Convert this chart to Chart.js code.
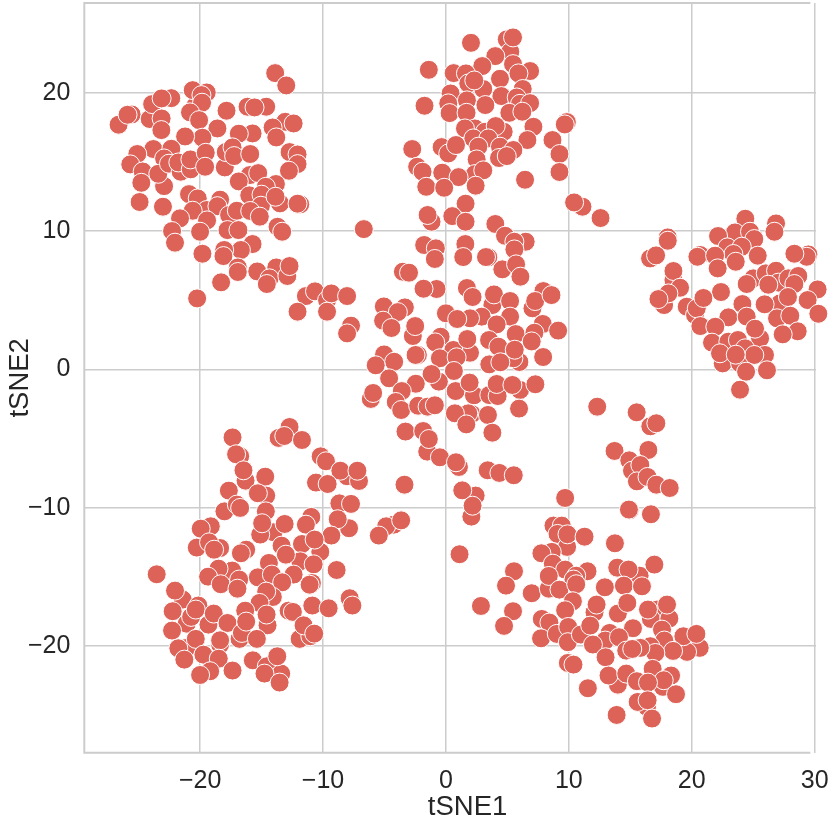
<!DOCTYPE html>
<html><head><meta charset="utf-8">
<style>html,body{margin:0;padding:0;background:#fff}canvas{display:block}</style>
<script src="https://cdn.jsdelivr.net/npm/chart.js@4/dist/chart.umd.min.js"></script>
</head><body><canvas id="c" width="830" height="822"></canvas>
<script>
const xTicks=[-20,-10,0,10,20,30];
const yTicks=[-20,-10,0,10,20];
const xName='tSNE1', yName='tSNE2';
const upperLeft=[[-13.89,21.42],[-12.99,20.53],[-26.63,17.69],[-25.57,18.43],[-25.9,18.41],[-24.1,18.1],[-23.9,19.18],[-22.34,19.61],[-23.13,19.59],[-23.13,18.14],[-23.15,17.3],[-19.46,20.02],[-20.35,19.1],[-20.6,20.19],[-19.89,19.83],[-19.84,19.28],[-20.82,18.58],[-20.08,18.02],[-17.85,18.7],[-16.14,18.99],[-14.62,18.99],[-15.57,18.94],[-13.07,17.9],[-12.39,17.78],[-14.1,17.49],[-13.8,16.77],[-15.73,17.06],[-16.85,17.04],[-18.59,17.42],[-19.81,16.75],[-21.22,16.84],[-23.8,15.93],[-22.34,15.95],[-25.11,15.57],[-25.68,14.82],[-24.67,14.31],[-24.78,13.49],[-24.92,12.1],[-22.93,15.25],[-22.93,13.25],[-23.02,11.76],[-23.4,14.14],[-22.53,14.87],[-21.58,14.29],[-21.77,14.96],[-20.76,14.46],[-20.79,15.18],[-19.54,15.66],[-19.59,14.65],[-17.99,14.6],[-17.91,15.71],[-17.36,16.05],[-17.23,15.42],[-15.92,15.57],[-12.72,15.71],[-12.07,15.54],[-12.07,14.84],[-12.77,14.36],[-15.95,14.05],[-15.27,14.19],[-16.85,13.59],[-13.83,13.4],[-14.65,13.2],[-16.0,12.58],[-15.0,12.63],[-15.05,11.83],[-13.5,12],[-13.86,12.48],[-11.85,11.93],[-12.07,11.98],[-20.9,12.67],[-20.19,12.36],[-18.37,12.27],[-19.46,11.52],[-18.59,11.8],[-20.6,11.47],[-21.63,10.92],[-19.43,10.77],[-22.28,10],[-22.04,9.16],[-20,9.95],[-19.81,8.36],[-17.64,11.16],[-17.01,11.47],[-15.92,11.45],[-15.14,11.04],[-13.7,10.31],[-13.32,9.95],[-17.77,10.07],[-16.88,10.07],[-15.73,9.06],[-16.68,8.63],[-18.04,8.63],[-18.1,8.19],[-16.93,7.37],[-16.93,7.04],[-15.35,7.08],[-18.29,6.29],[-20.24,5.13],[-13.8,7.37],[-14.35,6.58],[-14.57,6.17],[-12.9,6.75],[-12.72,7.47],[-11.39,5.3],[-10.65,5.64],[-9.67,5.0],[-9.32,5.49],[-8.04,5.3],[-12.07,4.17],[-9.67,4.17]];
const upperMiddle=[[2.04,23.61],[4.95,23.86],[5.24,22.96],[5.46,24.0],[4.02,22.65],[2.96,21.93],[5.46,22.07],[-1.39,21.66],[0.63,21.42],[1.63,21.4],[6.85,21.57],[5.9,21.4],[4.4,21.01],[1.82,20.67],[3.04,20.27],[2.31,20.89],[6.25,20.27],[0.38,19.95],[4.51,19.76],[5.76,19.66],[1.71,19.45],[6.03,19.2],[6.85,19.25],[0.19,19.23],[3.21,19.11],[-1.74,19.06],[0.3,18.53],[1.68,18.55],[5.16,18.55],[6.22,18.63],[7.12,17.54],[2.36,17.42],[3.18,17.18],[4.7,17.18],[1.55,17.42],[4.05,17.59],[9.84,17.88],[9.67,17.71],[2.23,16.7],[3.45,16.7],[6.63,16.58],[8.67,16.58],[-2.74,15.93],[-0.35,16.07],[0.19,15.61],[0.82,16.22],[2.64,16.1],[4.4,16.1],[5.49,15.86],[4.32,15.28],[4.95,15.42],[9.24,15.57],[2.5,15.18],[-2.34,14.65],[-1.9,14.29],[-0.3,14.22],[2.36,14.12],[3.04,14.39],[9.24,14.27],[6.44,13.71],[1.03,13.9],[2.42,13.28],[-1.6,13.2],[-0.14,13.13],[11.11,11.76],[10.43,12.07],[1.6,11.98],[12.58,10.94],[0.52,11.08],[-1.17,10.67],[-1.49,11.16],[1.6,10.67],[4.02,10.51],[4.81,9.66],[6.49,9.23],[5.57,9.23],[-6.68,10.14],[-1.77,8.99],[-0.82,8.75],[1.58,9.06]];
const center=[[5.57,8.67],[-0.9,7.98],[1.41,8.12],[3.45,8.1],[3.26,8.12],[4.59,7.23],[5.71,7.59],[6.06,6.7],[-3.5,7.06],[-3.0,6.99],[-0.76,5.81],[-1.82,5.83],[1.71,5.88],[2.17,5.23],[3.78,4.65],[3.91,5.42],[5.22,4.94],[7.93,5.66],[7.04,4.41],[7.26,4.94],[8.59,5.37],[-5.05,4.55],[-3.34,4.48],[-3.91,4.14],[-5.11,3.52],[-4.43,2.99],[-2.69,2.41],[-2.5,3.13],[0,4.05],[2.91,3.81],[1.96,3.69],[0.92,3.64],[5.22,3.81],[4.13,3.25],[7.88,3.28],[9.13,2.8],[5.68,2.55],[7.2,2.65],[6.98,2.02],[-0.43,2.36],[-0.87,1.95],[1.96,1.2],[0.6,1.4],[1.74,2.19],[3.51,2.12],[4.27,1.64],[5.98,0.53],[5.49,0.8],[5.6,1.42],[-2.28,1.04],[-2.47,1.04],[-0.49,0.8],[0.87,0.87],[7.91,0.89],[-5.03,1.08],[-4.21,0.55],[-5.71,0.29],[-4.62,-0.65],[3.53,0.36],[4.43,0.51],[0.65,-0.12],[-0.57,-0.89],[-1.17,-0.34],[-2.45,-1.04],[0.79,-1.57],[2.28,-1.88],[1.93,-0.96],[3.53,-1.86],[4.21,-1.93],[4.13,-1.06],[6.03,-1.49],[5.41,-1.13],[7.28,-1.08],[-3.59,-1.57],[-6.11,-2.14],[-5.92,-1.71],[-4.08,-2.36],[-3.64,-2.94],[-2.26,-2.63],[-1.49,-2.7],[-0.9,-2.6],[2.09,-3.23],[1.82,-3.18],[0.73,-3.18],[1.66,-3.98],[3.42,-3.3],[5.95,-2.84],[3.78,-4.58],[-3.29,-4.5],[-1.85,-4.46],[-1.52,-5.95],[-1.39,-5.04],[-0.49,-6.36],[1.06,-7.06],[0.82,-6.72],[-7.72,3.16],[-8.04,2.6]];
const lowerRight=[[12.31,-2.7],[15.52,-3.11],[16.63,-4.12],[17.12,-3.9],[13.72,-5.9],[14.92,-6.58],[15.14,-7.33],[16.47,-5.83],[15.82,-6.92],[15.54,-8.1],[16.4,-7.78],[17.12,-8.34],[18.21,-8.58],[3.4,-7.3],[4.35,-7.49],[5.52,-7.66],[2.42,-9.13],[1.33,-8.75],[2.07,-10.65],[2.17,-9.86],[9.7,-9.3],[14.95,-10.19],[14.89,-10.14],[16.68,-10.48],[8.75,-11.3],[9.43,-11.3],[9.08,-11.9],[9.86,-12.84],[9.89,-11.93],[11.28,-12.1],[1.11,-13.37],[13.75,-12.58],[8.61,-13.2],[7.77,-13.3],[8.7,-14.05],[5.54,-14.6],[4.89,-15.64],[6.98,-16.19],[9.7,-14.48],[8.37,-15.86],[8.37,-14.94],[11.52,-14.6],[10.6,-14.92],[10.38,-15.2],[9.24,-15.93],[10.6,-15.54],[13.94,-14.34],[15.76,-14.92],[14.86,-14.48],[16.96,-14.12],[14.48,-15.64],[15.95,-15.69],[12.93,-15.76],[10.33,-16.77],[9.7,-17.42],[12.09,-17.57],[12.26,-17.01],[13.99,-17.66],[14.76,-16.89],[17.17,-17.37],[16.68,-18.05],[18.18,-18.02],[16.44,-17.37],[17.99,-17.01],[2.85,-17.11],[5.46,-17.49],[4.73,-18.55],[7.8,-18.05],[8.42,-18.31],[7.74,-19.45],[9.02,-19.13],[9.95,-18.63],[9.92,-19.73],[10.98,-19.18],[11.74,-18.53],[15.22,-18.72],[13.32,-19.06],[12.96,-19.61],[14.08,-19.37],[11.96,-19.9],[17.58,-18.82],[17.77,-19.61],[20.65,-20.14],[19.62,-20.43],[19.32,-19.3],[20.38,-19.13],[18.48,-20.36],[14.67,-20.34],[16.63,-20.02],[17.04,-20.51],[15.82,-20.14],[15.16,-20.22],[12.99,-20.82],[9.92,-21.23],[10.38,-21.35],[16.82,-21.66],[13.99,-22.8],[13.23,-22.14],[14.67,-22],[15.54,-22.55],[17.66,-22.96],[18.32,-22.14],[17.72,-22.48],[16.44,-22.65],[11.55,-23.06],[18.72,-23.49],[16.36,-24.41],[15.6,-24.05],[16.41,-23.93],[13.89,-24.99],[16.77,-25.25]];
const upperRight=[[24.36,10.89],[26.86,10.55],[26.73,9.95],[18.05,9.54],[18.05,9.3],[23.52,9.9],[24.74,9.95],[22.14,9.64],[25.09,9.42],[22.9,8.82],[24.07,8.87],[20.68,8.27],[20.46,8.14],[23.39,8.34],[23.58,7.78],[21.9,8.22],[25.37,8.22],[22.11,7.3],[29.49,8.31],[29.35,8.14],[28.35,8.36],[16.61,8.02],[17.1,8.24],[18.51,6.46],[18.51,7.11],[19.05,5.9],[17.75,4.65],[18.1,5.49],[17.29,5.08],[22.38,5.59],[19.59,4.53],[20.27,3.93],[20.41,4.41],[20.95,5.16],[25.01,6.58],[24.47,6.17],[26.02,6.94],[26.86,7.13],[27.05,6.27],[26.23,6.12],[27.86,6.58],[28.67,6.75],[28.35,6.17],[30.24,5.78],[29.43,5.01],[27.18,4.77],[27.83,5.23],[25.93,4.7],[24.12,4.72],[22.98,3.76],[24.47,3.81],[26.94,3.69],[28.02,3.88],[30.3,4.02],[20.7,3.13],[21.92,3.08],[25.56,2.24],[25.15,2.94],[28.62,2.75],[27.4,2.53],[21.65,1.93],[22.98,2.0],[23.76,2.12],[24.34,1.52],[22.52,0.43],[22.3,1.16],[23.93,0.43],[25.96,1.04],[25.09,1.04],[23.58,1.06],[24.42,-0.17],[26.12,-0.07],[23.93,-1.47]];
const lowerLeft=[[-12.72,-4.17],[-13.61,-4.96],[-13.15,-4.82],[-11.71,-5.11],[-17.36,-4.92],[-16.74,-6.29],[-17.07,-6.14],[-16.3,-8.05],[-16.47,-7.3],[-14.7,-7.76],[-17.66,-8.77],[-14.62,-9.13],[-15.3,-8.96],[-18.02,-10.27],[-17.01,-9.78],[-16.74,-10.02],[-14.65,-10.27],[-10.19,-6.29],[-9.76,-6.65],[-8.04,-7.73],[-8.59,-7.33],[-7.07,-8.07],[-7.2,-7.33],[-10.57,-8.19],[-9.62,-8.29],[-3.37,-8.34],[-8.67,-9.69],[-7.72,-9.73],[-7.88,-11.49],[-8.8,-10.84],[-9.32,-12.02],[-10.95,-10.67],[-11.39,-11.23],[-10.22,-13.2],[-11.71,-12.63],[-10.68,-12.31],[-11.85,-13.88],[-10.76,-14.1],[-8.89,-14.51],[-10.9,-15.45],[-11.09,-15.57],[-19.13,-11.35],[-19.95,-11.52],[-14.02,-11.78],[-15.11,-11.95],[-14.95,-11.13],[-13.12,-11.18],[-20.27,-12.89],[-18.37,-12.92],[-19.27,-12.51],[-18.86,-13.04],[-16.25,-13.04],[-16.68,-13.3],[-13.37,-12.75],[-13.02,-13.4],[-14.4,-14],[-17.39,-14.55],[-18.5,-14.41],[-19.35,-14.99],[-18.32,-15.54],[-16.82,-15.2],[-16.96,-15.86],[-15.3,-15.04],[-14.16,-14.84],[-12.39,-14.84],[-13.32,-15.4],[-14.08,-16.46],[-14.62,-16.07],[-15.16,-16.89],[-23.53,-14.82],[-21.41,-16.65],[-22.04,-16],[-22.23,-17.49],[-21.09,-18.39],[-20.73,-17.9],[-20.14,-17.08],[-20.35,-17.37],[-19.32,-18.46],[-18.89,-17.66],[-17.77,-18.34],[-22.28,-18.89],[-21.09,-20.14],[-20.35,-19.49],[-21.77,-20.17],[-21.28,-20.99],[-19.73,-20.63],[-18.37,-19.9],[-18.37,-19.59],[-18.48,-20.92],[-19.18,-21.83],[-20,-22.1],[-17.36,-21.78],[-16.79,-19.49],[-16.6,-19.06],[-16.33,-17.45],[-16.25,-18.24],[-14.51,-18.51],[-14.59,-17.73],[-15.38,-19.49],[-12.8,-17.45],[-12.45,-17.54],[-10.87,-17.08],[-9.54,-17.28],[-7.83,-16.55],[-7.61,-17.08],[-11.9,-19.49],[-11.03,-19.3],[-11.58,-18.51],[-10.71,-19.11],[-15.71,-21.04],[-14.57,-21.47],[-13.4,-22],[-13.72,-20.75],[-14.76,-22],[-13.53,-22.65],[-4.24,-11.23],[-4.86,-11.35],[-5.46,-12.02],[-3.64,-10.92]];
const points=[...upperLeft,...upperMiddle,...center,...lowerRight,...upperRight,...lowerLeft].map(p=>({x:p[0],y:p[1]}));
const gridColor='#cccccc', textColor='#262626', fontFamily='"Liberation Sans",Arial,sans-serif';
const fmt=v=>String(v).replace('-','\u2212');
const spines={id:'spines',beforeDatasetsDraw(ch){
  const {ctx,chartArea:a,scales:{x,y}}=ch;
  ctx.save();ctx.strokeStyle=gridColor;ctx.lineWidth=2;ctx.beginPath();
  const r=x.getPixelForValue(29.65);
  ctx.moveTo(a.left,a.top);ctx.lineTo(r,a.top);
  ctx.moveTo(a.left,a.bottom);ctx.lineTo(r,a.bottom);
  ctx.moveTo(a.left,a.top-1);ctx.lineTo(a.left,a.bottom+1);
  ctx.stroke();ctx.restore();
},afterDraw(ch){
  const {ctx,scales:{x}}=ch;
  ctx.save();ctx.fillStyle=textColor;ctx.font='27.5px '+fontFamily;ctx.textAlign='center';ctx.textBaseline='alphabetic';
  ctx.fillText(xName,x.getPixelForValue(1.76),815);
  ctx.restore();
}};
new Chart(document.getElementById('c'),{
  type:'scatter',
  data:{datasets:[{data:points,backgroundColor:'#dd6258',borderColor:'#ffffff',borderWidth:1,pointRadius:9.5,pointHoverRadius:9.5,clip:false}]},
  plugins:[spines],
  options:{
    responsive:false,animation:false,
    layout:{autoPadding:false,padding:{top:3,right:14,bottom:0,left:0}},
    plugins:{legend:{display:false},tooltip:{enabled:false}},
    scales:{
      x:{type:'linear',min:-29.42,max:30.11,
        afterFit:s=>{s.height=69.3;s.paddingLeft=0;s.paddingRight=0;s.paddingTop=0;s.paddingBottom=0},
        afterBuildTicks:s=>{s.ticks=xTicks.map(v=>({value:v}))},
        grid:{color:gridColor,lineWidth:1.5,drawTicks:false},border:{display:false},
        ticks:{padding:13,color:textColor,font:{family:fontFamily,size:25},maxRotation:0,autoSkip:false,callback:fmt},
        title:{display:false,text:xName}},
      y:{type:'linear',min:-27.72,max:26.49,
        afterFit:s=>{s.width=84.3;s.paddingLeft=0;s.paddingRight=0;s.paddingTop=0;s.paddingBottom=0},
        afterBuildTicks:s=>{s.ticks=yTicks.map(v=>({value:v}))},
        grid:{color:gridColor,lineWidth:1.5,drawTicks:false},border:{display:false},
        ticks:{padding:14,color:textColor,font:{family:fontFamily,size:25},autoSkip:false,callback:fmt},
        title:{display:true,text:yName,color:textColor,font:{family:fontFamily,size:27.5},padding:{top:4,bottom:0}}}
    }
  }
});
</script></body></html>
